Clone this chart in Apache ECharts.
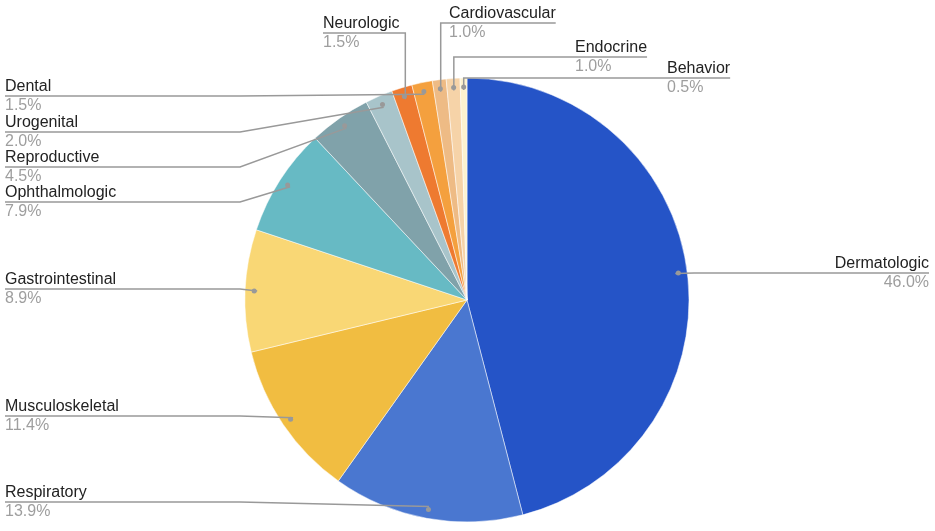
<!DOCTYPE html>
<html>
<head>
<meta charset="utf-8">
<script src="https://cdn.jsdelivr.net/npm/echarts@6/dist/echarts.min.js"></script>
<style>
  html, body { margin: 0; padding: 0; background: #fff; }
  #chart { width: 935px; height: 531px; }
</style>
</head>
<body>
<div id="chart"></div>
<script>
var categories = ['Dermatologic', 'Respiratory', 'Musculoskeletal', 'Gastrointestinal', 'Ophthalmologic',
  'Reproductive', 'Urogenital', 'Neurologic', 'Dental', 'Cardiovascular', 'Endocrine', 'Behavior'];
var shares = [46.0, 13.9, 11.4, 8.9, 7.9, 4.5, 2.0, 1.5, 1.5, 1.0, 1.0, 0.5];
var sliceColors = ['#2554c7', '#4a77d0', '#f1bd41', '#f9d775', '#67bac4', '#80a2aa',
  '#a8c4ca', '#ee7a30', '#f4a03e', '#eebb85', '#f6d3a8', '#fdf2cf'];

// where each label goes: x = text edge, y = the leader line under the name
var spots = {
  Dermatologic: { x: 929, y: 273, align: 'right' },
  Respiratory: { x: 5, y: 502 },
  Musculoskeletal: { x: 5, y: 416 },
  Gastrointestinal: { x: 5, y: 289 },
  Ophthalmologic: { x: 5, y: 202 },
  Reproductive: { x: 5, y: 167 },
  Urogenital: { x: 5, y: 132 },
  Dental: { x: 5, y: 96 },
  Neurologic: { x: 323, y: 33, top: true },
  Cardiovascular: { x: 449, y: 23, top: true },
  Endocrine: { x: 575, y: 57, top: true },
  Behavior: { x: 667, y: 78, top: true }
};

var cx = 467, cy = 300, R = 222, dotR = 210;
var font = '"Liberation Sans", Arial, sans-serif';

function plainData() {
  return categories.map(function (c, i) { return { name: c, value: shares[i] }; });
}

var chart = echarts.init(document.getElementById('chart'));

chart.setOption({
  animation: false,
  series: [
    {
      // the coloured slices
      type: 'pie',
      center: [cx, cy],
      radius: R,
      startAngle: 90,
      clockwise: true,
      silent: true,
      z: 2,
      itemStyle: { borderColor: '#fff', borderWidth: 0.5 },
      label: { show: false },
      labelLine: { show: false },
      data: categories.map(function (c, i) {
        return { name: c, value: shares[i], itemStyle: { color: sliceColors[i] } };
      })
    },
    {
      // transparent copy carrying the labels and leader lines above the slices
      type: 'pie',
      center: [cx, cy],
      radius: R,
      startAngle: 90,
      clockwise: true,
      avoidLabelOverlap: false,
      silent: true,
      z: 4,
      itemStyle: { color: 'rgba(0,0,0,0)', borderWidth: 0 },
      label: {
        show: true,
        position: 'outer',
        fontFamily: font,
        formatter: function (p) {
          return '{n|' + p.name + '}\n{p|' + p.value.toFixed(1) + '%}';
        },
        rich: {
          n: { fontFamily: font, fontSize: 16, color: '#222', lineHeight: 19 },
          p: { fontFamily: font, fontSize: 16, color: '#9e9e9e', lineHeight: 19 }
        }
      },
      labelLine: {
        show: true,
        length: 10,
        length2: 10,
        lineStyle: { color: '#999', width: 1.5 }
      },
      labelLayout: function (params) {
        var s = spots[categories[params.dataIndex]];
        var p0 = params.labelLinePoints[0];
        var k = dotR / Math.sqrt((p0[0] - cx) * (p0[0] - cx) + (p0[1] - cy) * (p0[1] - cy));
        var dot = [cx + (p0[0] - cx) * k, cy + (p0[1] - cy) * k];
        var w = params.labelRect.width;
        var pts;
        if (s.top) {
          var farX = dot[0] > s.x + w / 2 ? s.x : s.x + w;
          pts = [dot, [dot[0], s.y], [farX, s.y]];
        } else if (s.align === 'right') {
          pts = [dot, [694, s.y], [s.x, s.y]];
        } else {
          pts = [dot, [240, s.y], [s.x, s.y]];
        }
        return {
          x: s.x,
          y: s.y,
          align: s.align || 'left',
          verticalAlign: 'middle',
          labelLinePoints: pts
        };
      },
      data: plainData()
    },
    {
      // invisible ring whose inside labels are the dots at the leader line ends
      type: 'pie',
      center: [cx, cy],
      radius: [dotR - 10, dotR + 10],
      startAngle: 90,
      clockwise: true,
      silent: true,
      z: 6,
      itemStyle: { color: 'rgba(0,0,0,0)', borderWidth: 0 },
      label: {
        show: true,
        position: 'inside',
        formatter: '{d|}',
        rich: {
          d: { width: 5, height: 5, borderRadius: 2.5, backgroundColor: '#999' }
        }
      },
      labelLine: { show: false },
      data: plainData()
    }
  ]
});
</script>
</body>
</html>
